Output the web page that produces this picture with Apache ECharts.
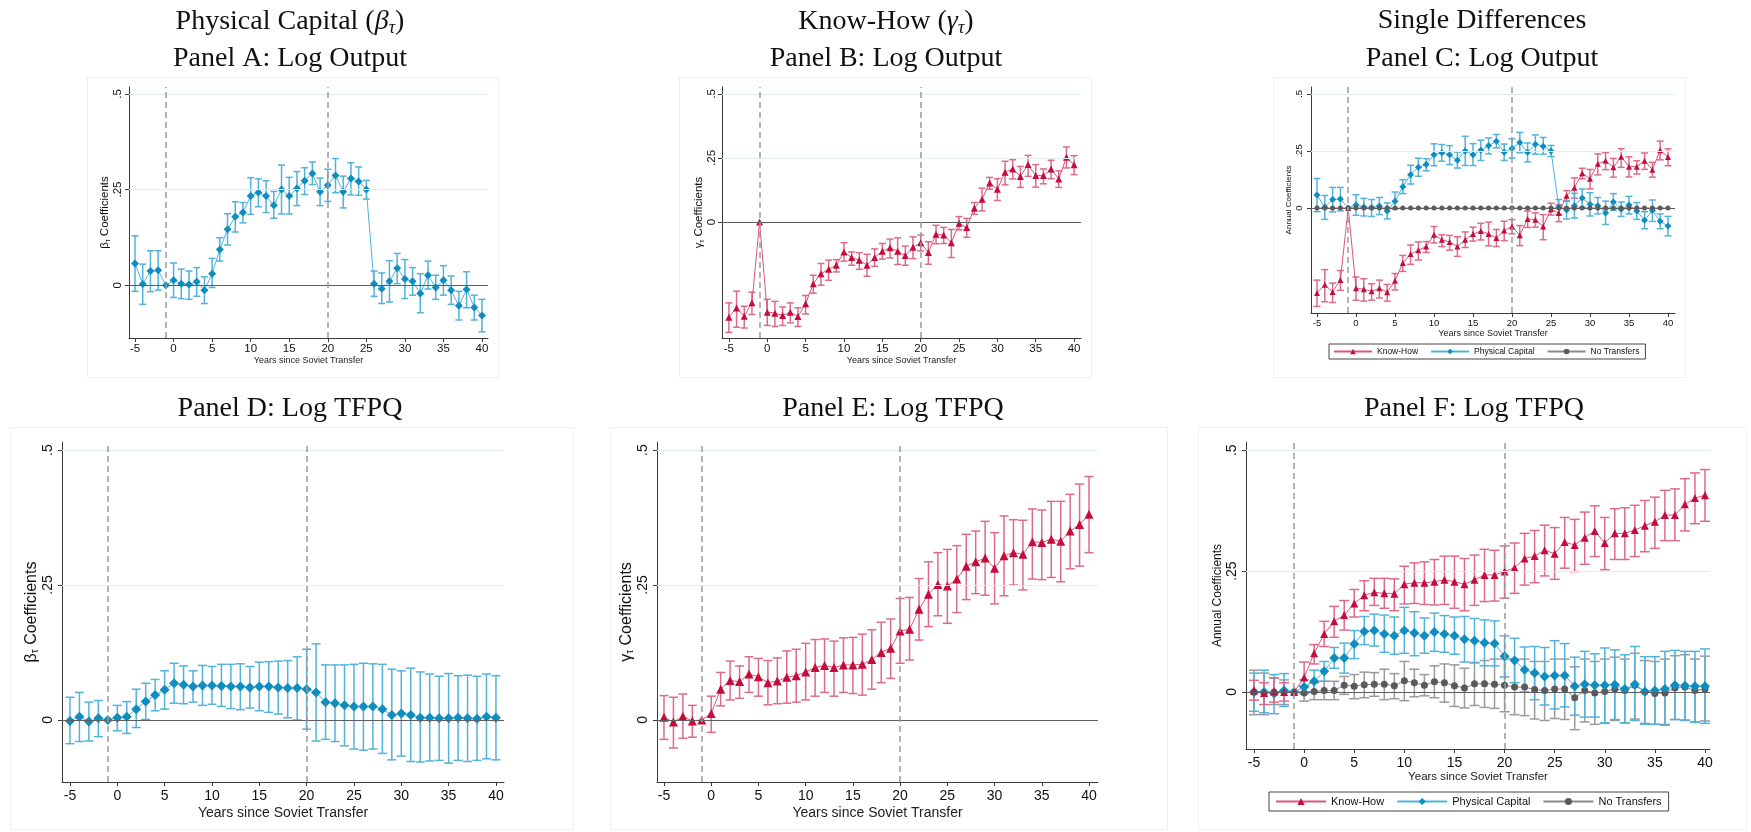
<!DOCTYPE html>
<html lang="en">
  <head>
    <meta charset="UTF-8" />
    <title>Soviet transfers: event-study coefficients</title>
    <script src="https://cdn.jsdelivr.net/npm/echarts@6/dist/echarts.min.js"></script>
    <style>
      html, body { margin: 0; padding: 0; background: #fff; }
      #main { width: 1751px; height: 832px; }
    </style>
  </head>
  <body>
    <div id="main"></div>
    <script>
      // years since transfer
      var years = [-5, -4, -3, -2, -1, 0, 1, 2, 3, 4, 5, 6, 7, 8, 9, 10, 11, 12, 13, 14, 15, 16, 17, 18, 19,
        20, 21, 22, 23, 24, 25, 26, 27, 28, 29, 30, 31, 32, 33, 34, 35, 36, 37, 38, 39, 40];
      var xTicks = [-5, 0, 5, 10, 15, 20, 25, 30, 35, 40];
      var yTicks = [0, 0.25, 0.5];
      var yTickText = ["0", ".25", ".5"];

      // Log output, physical capital (panels A and C)
      var pcOut = [0.057, 0.003, 0.037, 0.039, 0,
        0.013, 0.004, 0.002, 0.009, -0.013, 0.030, 0.093, 0.146, 0.179, 0.190,
        0.233, 0.242, 0.233, 0.209, 0.250, 0.233, 0.253, 0.273, 0.292, 0.244,
        0.261, 0.287, 0.244, 0.279, 0.271, 0.250, 0.004, -0.009, 0.010, 0.044,
        0.016, 0.010, -0.022, 0.026, -0.006, 0.013, -0.013, -0.054, -0.011, -0.058, -0.079];
      var pcOutHi = [0.129, 0.055, 0.09, 0.09, null,
        0.058, 0.042, 0.037, 0.046, 0.022, 0.07, 0.124, 0.187, 0.218, 0.216,
        0.281, 0.278, 0.273, 0.245, 0.314, 0.282, 0.297, 0.307, 0.322, 0.28,
        0.303, 0.331, 0.285, 0.32, 0.309, 0.274, 0.037, 0.032, 0.064, 0.083,
        0.067, 0.046, 0.03, 0.063, 0.026, 0.051, 0.024, -0.016, 0.035, -0.026, -0.037];
      var pcOutLo = [-0.016, -0.05, -0.017, -0.013, null,
        -0.032, -0.035, -0.037, -0.029, -0.048, -0.006, 0.063, 0.105, 0.139, 0.163,
        0.185, 0.205, 0.19, 0.175, 0.186, 0.186, 0.208, 0.237, 0.263, 0.208,
        0.219, 0.242, 0.202, 0.236, 0.235, 0.225, -0.029, -0.048, -0.044, 0.004,
        -0.035, -0.026, -0.072, -0.01, -0.037, -0.026, -0.05, -0.091, -0.059, -0.091, -0.122];

      // Log output, know-how (panels B and C)
      var khOut = [-0.372, -0.336, -0.368, -0.315, 0,
        -0.352, -0.356, -0.365, -0.352, -0.369, -0.319, -0.241, -0.202, -0.185, -0.169,
        -0.117, -0.139, -0.149, -0.169, -0.139, -0.114, -0.101, -0.114, -0.131, -0.099,
        -0.081, -0.119, -0.048, -0.051, -0.081, -0.005, -0.022, 0.054, 0.089, 0.152,
        0.128, 0.194, 0.207, 0.178, 0.224, 0.181, 0.181, 0.207, 0.168, 0.253, 0.223];
      var khOutHi = [-0.316, -0.27, -0.329, -0.274, null,
        -0.302, -0.31, -0.332, -0.316, -0.335, -0.287, -0.208, -0.162, -0.149, -0.147,
        -0.081, -0.117, -0.12, -0.126, -0.105, -0.084, -0.067, -0.062, -0.094, -0.058,
        -0.051, -0.077, -0.013, -0.021, -0.029, 0.021, 0.014, 0.076, 0.132, 0.174,
        0.169, 0.237, 0.243, 0.217, 0.26, 0.224, 0.207, 0.241, 0.2, 0.293, 0.259];
      var khOutLo = [-0.431, -0.411, -0.414, -0.361, null,
        -0.404, -0.408, -0.404, -0.394, -0.408, -0.359, -0.278, -0.247, -0.228, -0.195,
        -0.153, -0.169, -0.185, -0.212, -0.173, -0.145, -0.14, -0.166, -0.169, -0.143,
        -0.113, -0.165, -0.085, -0.084, -0.139, -0.031, -0.06, 0.03, 0.043, 0.128,
        0.084, 0.145, 0.168, 0.135, 0.178, 0.136, 0.149, 0.169, 0.135, 0.211, 0.185];

      // Log output, no transfers (panel C)
      var ntOut = [0, 0, 0, 0, 0,
        0, 0, 0, 0, 0, 0, 0, 0, 0, 0,
        0, 0, 0, 0, 0, 0, 0, 0, 0, 0,
        0, 0, 0, 0, 0, 0, 0, 0, 0, 0,
        0, 0, 0, 0, 0, 0, 0, 0, 0, 0, 0];

      // Log TFPQ, physical capital (panel D)
      var pcTfpq = [-0.002, 0.006, -0.003, 0.003, 0,
        0.004, 0.006, 0.02, 0.034, 0.046, 0.056, 0.068, 0.065, 0.062, 0.064,
        0.064, 0.063, 0.062, 0.062, 0.06, 0.062, 0.062, 0.06, 0.059, 0.059,
        0.057, 0.051, 0.033, 0.031, 0.027, 0.025, 0.025, 0.025, 0.02, 0.009,
        0.012, 0.009, 0.004, 0.004, 0.003, 0.003, 0.004, 0.003, 0.002, 0.006, 0.004];
      var pcTfpqHi = [0.042, 0.051, 0.033, 0.036, null,
        0.027, 0.034, 0.057, 0.068, 0.075, 0.091, 0.105, 0.1, 0.091, 0.101,
        0.099, 0.103, 0.103, 0.104, 0.099, 0.107, 0.108, 0.109, 0.11, 0.117,
        0.131, 0.141, 0.102, 0.102, 0.102, 0.103, 0.105, 0.104, 0.103, 0.094,
        0.091, 0.096, 0.089, 0.085, 0.081, 0.086, 0.082, 0.083, 0.081, 0.085, 0.082];
      var pcTfpqLo = [-0.044, -0.04, -0.039, -0.031, null,
        -0.02, -0.025, -0.014, 0.001, 0.017, 0.02, 0.031, 0.03, 0.033, 0.027,
        0.029, 0.025, 0.021, 0.019, 0.022, 0.017, 0.014, 0.011, 0.004, 0,
        -0.017, -0.039, -0.036, -0.04, -0.048, -0.054, -0.056, -0.054, -0.062, -0.074,
        -0.067, -0.077, -0.078, -0.076, -0.075, -0.08, -0.075, -0.077, -0.075, -0.072, -0.074];

      // Log TFPQ, know-how (panel E)
      var khTfpq = [0.005, -0.004, 0.007, -0.002, 0,
        0.012, 0.057, 0.073, 0.071, 0.085, 0.08, 0.069, 0.072, 0.079, 0.082,
        0.089, 0.097, 0.101, 0.097, 0.102, 0.102, 0.103, 0.112, 0.125, 0.133,
        0.165, 0.168, 0.205, 0.233, 0.251, 0.248, 0.261, 0.285, 0.293, 0.3,
        0.281, 0.304, 0.31, 0.307, 0.33, 0.329, 0.335, 0.331, 0.35, 0.362, 0.381];
      var khTfpqHi = [0.045, 0.042, 0.048, 0.027, null,
        0.044, 0.088, 0.109, 0.1, 0.117, 0.114, 0.11, 0.115, 0.128, 0.131,
        0.142, 0.149, 0.15, 0.146, 0.152, 0.153, 0.159, 0.167, 0.181, 0.187,
        0.225, 0.227, 0.262, 0.293, 0.31, 0.316, 0.323, 0.344, 0.35, 0.368,
        0.347, 0.378, 0.371, 0.37, 0.391, 0.389, 0.405, 0.405, 0.418, 0.437, 0.451];
      var khTfpqLo = [-0.036, -0.052, -0.034, -0.032, null,
        -0.023, 0.026, 0.037, 0.04, 0.051, 0.044, 0.028, 0.03, 0.031, 0.033,
        0.037, 0.044, 0.051, 0.044, 0.051, 0.049, 0.046, 0.057, 0.069, 0.077,
        0.105, 0.111, 0.148, 0.173, 0.193, 0.179, 0.199, 0.223, 0.234, 0.231,
        0.215, 0.23, 0.25, 0.241, 0.261, 0.26, 0.264, 0.256, 0.28, 0.285, 0.31];

      // Log TFPQ, single differences (panel F)
      var khSd = [0.003, -0.002, 0.001, 0, 0,
        0.03, 0.08, 0.12, 0.146, 0.159, 0.183, 0.2, 0.206, 0.204, 0.203,
        0.223, 0.226, 0.226, 0.228, 0.232, 0.228, 0.223, 0.232, 0.242, 0.242,
        0.249, 0.257, 0.276, 0.281, 0.293, 0.286, 0.31, 0.304, 0.319, 0.333,
        0.308, 0.328, 0.328, 0.335, 0.344, 0.352, 0.366, 0.366, 0.388, 0.401, 0.407];
      var khSdHi = [0.024, 0.019, 0.029, 0.019, null,
        0.062, 0.098, 0.146, 0.177, 0.189, 0.212, 0.23, 0.235, 0.235, 0.234,
        0.26, 0.267, 0.269, 0.274, 0.281, 0.281, 0.276, 0.283, 0.295, 0.293,
        0.302, 0.308, 0.328, 0.334, 0.345, 0.34, 0.361, 0.357, 0.372, 0.385,
        0.361, 0.379, 0.381, 0.386, 0.396, 0.403, 0.417, 0.42, 0.441, 0.453, 0.46];
      var khSdLo = [-0.017, -0.026, -0.021, -0.019, null,
        0, 0.058, 0.094, 0.113, 0.128, 0.155, 0.168, 0.179, 0.173, 0.168,
        0.182, 0.183, 0.181, 0.18, 0.181, 0.173, 0.168, 0.179, 0.187, 0.188,
        0.194, 0.204, 0.221, 0.226, 0.24, 0.233, 0.256, 0.249, 0.264, 0.28,
        0.253, 0.274, 0.274, 0.28, 0.29, 0.297, 0.313, 0.313, 0.333, 0.348, 0.353];

      var pcSd = [0, 0, -0.003, 0.003, 0,
        0.01, 0.022, 0.043, 0.07, 0.07, 0.099, 0.125, 0.127, 0.12, 0.116,
        0.127, 0.122, 0.116, 0.124, 0.12, 0.116, 0.109, 0.106, 0.102, 0.1,
        0.074, 0.065, 0.046, 0.039, 0.032, 0.034, 0.034, 0.012, 0.016, 0.014,
        0.014, 0.015, 0.006, 0.016, 0.001, 0.003, 0.006, 0.014, 0.013, 0.012, 0.012];
      var pcSdHi = [0.039, 0.045, 0.036, 0.038, null,
        0.025, 0.045, 0.063, 0.092, 0.101, 0.127, 0.156, 0.161, 0.159, 0.155,
        0.175, 0.166, 0.153, 0.163, 0.158, 0.155, 0.156, 0.152, 0.149, 0.147,
        0.116, 0.111, 0.093, 0.094, 0.092, 0.106, 0.1, 0.072, 0.084, 0.079,
        0.091, 0.087, 0.077, 0.094, 0.073, 0.073, 0.084, 0.086, 0.084, 0.084, 0.089];
      var pcSdLo = [-0.04, -0.043, -0.045, -0.03, null,
        -0.004, 0, 0.022, 0.049, 0.039, 0.069, 0.098, 0.095, 0.082, 0.078,
        0.08, 0.075, 0.08, 0.084, 0.082, 0.078, 0.062, 0.06, 0.054, 0.054,
        0.031, 0.019, 0, -0.016, -0.027, -0.035, -0.031, -0.048, -0.052, -0.052,
        -0.064, -0.057, -0.064, -0.059, -0.067, -0.067, -0.069, -0.057, -0.058, -0.063, -0.065];

      var ntSd = [0, -0.002, 0, 0, 0,
        -0.002, 0.001, 0.003, 0.003, 0.014, 0.012, 0.015, 0.016, 0.016, 0.013,
        0.023, 0.019, 0.014, 0.021, 0.019, 0.013, 0.008, 0.017, 0.017, 0.016,
        0.014, 0.01, 0.01, 0.005, 0.003, 0.006, 0.006, -0.012, 0.003, -0.002,
        0.001, 0.006, 0.003, 0.014, 0, -0.003, -0.002, 0.008, 0.01, 0.003, 0.006];
      var ntSdHi = [0.045, 0.039, 0.029, 0.025, null,
        0.012, 0.019, 0.022, 0.022, 0.032, 0.036, 0.041, 0.04, 0.047, 0.038,
        0.063, 0.047, 0.036, 0.054, 0.058, 0.056, 0.049, 0.061, 0.065, 0.068,
        0.068, 0.068, 0.068, 0.063, 0.063, 0.068, 0.068, 0.052, 0.068, 0.063,
        0.068, 0.072, 0.068, 0.08, 0.065, 0.063, 0.068, 0.075, 0.077, 0.068, 0.074];
      var ntSdLo = [-0.047, -0.047, -0.026, -0.026, null,
        -0.019, -0.016, -0.016, -0.016, -0.005, -0.014, -0.012, -0.009, -0.016, -0.014,
        -0.018, -0.01, -0.008, -0.012, -0.021, -0.03, -0.033, -0.028, -0.032, -0.034,
        -0.041, -0.047, -0.049, -0.056, -0.059, -0.055, -0.057, -0.078, -0.062, -0.067,
        -0.065, -0.059, -0.064, -0.056, -0.065, -0.067, -0.067, -0.057, -0.059, -0.062, -0.06];

      var SANS = "Liberation Sans, Arial, sans-serif";
      var SERIF = "Liberation Serif, Times New Roman, serif";

      var BLUE = { mark: "#0f8cc0", line: "#4fb3da", ci: "#52b2da" };
      var RED = { mark: "#c40d3c", line: "#d9577a", ci: "#de6a8a" };
      var GREY = { mark: "#5a5a5a", line: "#8a8a8a", ci: "#9a9a9a" };

      // panel layout (pixels) and axis ranges
      var panels = [
        { left: 129, top: 87, width: 359, height: 251, xmin: -5.78, xmax: 40.78, ymin: -0.138, ymax: 0.518,
          tick: 11.5, xname: 9, xgap: 17, xmargin: 5, yname: 11.5, ygap: 15, ymargin: 5, yt: "b",
          sym: 8, cap: 3.5 },
        { left: 722, top: 87, width: 359, height: 251, xmin: -5.9, xmax: 40.9, ymin: -0.453, ymax: 0.527,
          tick: 11.5, xname: 9, xgap: 17, xmargin: 5, yname: 11.5, ygap: 11, ymargin: 4, yt: "g",
          sym: 7, cap: 3.5 },
        { left: 1311, top: 87, width: 364, height: 226, xmin: -5.77, xmax: 40.9, ymin: -0.46, ymax: 0.53,
          tick: 9.5, xname: 9, xgap: 15, xmargin: 5, yname: 8, ygap: 13, ymargin: 7, yt: "a",
          sym: 7, cap: 3.5 },
        { left: 62, top: 442, width: 442, height: 340, xmin: -5.84, xmax: 40.85, ymin: -0.115, ymax: 0.515,
          tick: 14, xname: 14, xgap: 24, xmargin: 7, yname: 16, ygap: 20, ymargin: 7, yt: "b",
          sym: 10, cap: 4.5 },
        { left: 657, top: 442, width: 441, height: 340, xmin: -5.74, xmax: 40.95, ymin: -0.115, ymax: 0.515,
          tick: 14, xname: 14, xgap: 24, xmargin: 7, yname: 16, ygap: 20, ymargin: 7, yt: "g",
          sym: 10, cap: 4.5 },
        { left: 1246, top: 442, width: 464, height: 307, xmin: -5.8, xmax: 40.5, ymin: -0.118, ymax: 0.517,
          tick: 14, xname: 11.5, xgap: 21, xmargin: 7, yname: 12, ygap: 20, ymargin: 7, yt: "a",
          sym: 10, cap: 5 }
      ];

      function pts(vals) {
        return years.map(function (x, i) { return [x, vals[i]]; });
      }
      function bars(lo, hi) {
        var out = [];
        years.forEach(function (x, i) {
          if (lo[i] !== null && hi[i] !== null) out.push([x, lo[i], hi[i]]);
        });
        return out;
      }

      function errSeries(idx, lo, hi, color, cap) {
        return {
          type: "custom",
          name: "ci" + idx,
          xAxisIndex: idx,
          yAxisIndex: idx,
          z: 2,
          silent: true,
          encode: { x: 0, y: [1, 2] },
          data: bars(lo, hi),
          renderItem: function (params, api) {
            var x = api.value(0);
            var a = api.coord([x, api.value(1)]);
            var b = api.coord([x, api.value(2)]);
            var st = { stroke: color, lineWidth: 1.5 };
            return {
              type: "group",
              children: [
                { type: "line", shape: { x1: a[0], y1: a[1], x2: b[0], y2: b[1] }, style: st },
                { type: "line", shape: { x1: a[0] - cap, y1: a[1], x2: a[0] + cap, y2: a[1] }, style: st },
                { type: "line", shape: { x1: b[0] - cap, y1: b[1], x2: b[0] + cap, y2: b[1] }, style: st }
              ]
            };
          }
        };
      }

      function lineSeries(idx, name, vals, col, symbol, size) {
        return {
          type: "line",
          name: name,
          xAxisIndex: idx,
          yAxisIndex: idx,
          z: 3,
          data: pts(vals),
          symbol: symbol,
          symbolSize: size,
          showAllSymbol: true,
          itemStyle: { color: col.mark },
          lineStyle: { color: col.line, width: 1 },
          emphasis: { disabled: true },
          animation: false
        };
      }

      function refSeries(idx) {
        return {
          type: "line",
          name: "ref" + idx,
          xAxisIndex: idx,
          yAxisIndex: idx,
          data: [],
          z: 1,
          silent: true,
          markLine: {
            symbol: "none",
            silent: true,
            animation: false,
            label: { show: false },
            data: [
              { yAxis: 0.25, lineStyle: { color: "#e3edf0", width: 1, type: "solid" } },
              { yAxis: 0.5, lineStyle: { color: "#e3edf0", width: 1, type: "solid" } },
              { yAxis: 0, lineStyle: { color: "#5e5e5e", width: 1, type: "solid" } },
              { xAxis: -1, lineStyle: { color: "#9a9a9a", width: 1.5, type: [6, 4] } },
              { xAxis: 20, lineStyle: { color: "#9a9a9a", width: 1.5, type: [6, 4] } }
            ]
          }
        };
      }

      var yNames = {
        b: "{g|β}{s|τ} Coefficients",
        g: "{g|γ}{s|τ} Coefficients",
        a: "Annual Coefficients"
      };

      var grids = [], xAxes = [], yAxes = [];
      panels.forEach(function (p, i) {
        grids.push({ left: p.left, top: p.top, width: p.width, height: p.height, containLabel: false });
        xAxes.push({
          gridIndex: i, type: "value", min: p.xmin, max: p.xmax,
          axisLine: { show: true, onZero: false, lineStyle: { color: "#3a3a3a", width: 1 } },
          axisTick: { show: true, length: 4, customValues: xTicks, lineStyle: { color: "#3a3a3a" } },
          axisLabel: { customValues: xTicks, fontSize: p.tick, margin: p.xmargin, color: "#111", fontFamily: SANS },
          splitLine: { show: false },
          name: "Years since Soviet Transfer", nameLocation: "middle", nameGap: p.xgap,
          nameTextStyle: { fontSize: p.xname, color: "#222", fontFamily: SANS }
        });
        yAxes.push({
          gridIndex: i, type: "value", min: p.ymin, max: p.ymax,
          axisLine: { show: true, onZero: false, lineStyle: { color: "#3a3a3a", width: 1 } },
          axisTick: { show: true, length: 4, customValues: yTicks, lineStyle: { color: "#3a3a3a" } },
          axisLabel: {
            customValues: yTicks, rotate: 90, fontSize: p.tick, margin: p.ymargin, color: "#111", fontFamily: SANS,
            formatter: function (v) { return yTickText[yTicks.indexOf(v)]; }
          },
          splitLine: { show: false },
          name: yNames[p.yt], nameLocation: "middle", nameGap: p.ygap, nameRotate: 90,
          nameTextStyle: {
            fontSize: p.yname, color: "#111", fontFamily: SANS,
            rich: {
              g: { fontSize: p.yname, fontFamily: SANS, color: "#111" },
              s: { fontSize: Math.round(p.yname * 0.6), fontFamily: SANS, color: "#111",
                verticalAlign: "bottom", padding: [Math.round(p.yname * 0.5), 0, 0, 0] }
            }
          }
        });
      });

      var series = [];
      // A: physical capital, log output
      series.push(refSeries(0));
      series.push(errSeries(0, pcOutLo, pcOutHi, BLUE.ci, panels[0].cap));
      series.push(lineSeries(0, "pcA", pcOut, BLUE, "diamond", panels[0].sym));
      // B: know-how, log output
      series.push(refSeries(1));
      series.push(errSeries(1, khOutLo, khOutHi, RED.ci, panels[1].cap));
      series.push(lineSeries(1, "khB", khOut, RED, "triangle", panels[1].sym));
      // C: single differences, log output
      series.push(refSeries(2));
      series.push(errSeries(2, khOutLo, khOutHi, RED.ci, panels[2].cap));
      series.push(errSeries(2, pcOutLo, pcOutHi, BLUE.ci, panels[2].cap));
      series.push(lineSeries(2, "Know-How", khOut, RED, "triangle", 6));
      series.push(lineSeries(2, "Physical Capital", pcOut, BLUE, "diamond", 7));
      series.push(lineSeries(2, "No Transfers", ntOut, GREY, "circle", 5));
      // D: physical capital, log TFPQ
      series.push(refSeries(3));
      series.push(errSeries(3, pcTfpqLo, pcTfpqHi, BLUE.ci, panels[3].cap));
      series.push(lineSeries(3, "pcD", pcTfpq, BLUE, "diamond", panels[3].sym));
      // E: know-how, log TFPQ
      series.push(refSeries(4));
      series.push(errSeries(4, khTfpqLo, khTfpqHi, RED.ci, panels[4].cap));
      series.push(lineSeries(4, "khE", khTfpq, RED, "triangle", 9));
      // F: single differences, log TFPQ
      series.push(refSeries(5));
      series.push(errSeries(5, ntSdLo, ntSdHi, GREY.ci, panels[5].cap));
      series.push(errSeries(5, pcSdLo, pcSdHi, BLUE.ci, panels[5].cap));
      series.push(errSeries(5, khSdLo, khSdHi, RED.ci, panels[5].cap));
      series.push(lineSeries(5, "No Transfers", ntSd, GREY, "circle", 7));
      series.push(lineSeries(5, "Physical Capital", pcSd, BLUE, "diamond", 10));
      series.push(lineSeries(5, "Know-How", khSd, RED, "triangle", 8));

      function title(text, cx, top) {
        return {
          text: text, left: cx, top: top, textAlign: "center", padding: 0,
          textStyle: {
            fontFamily: SERIF, fontSize: 28, fontWeight: "normal", color: "#111",
            rich: {
              i: { fontFamily: SERIF, fontSize: 28, fontStyle: "italic", color: "#111" },
              s: { fontFamily: SERIF, fontSize: 18, fontStyle: "italic", color: "#111",
                verticalAlign: "bottom", padding: [12, 0, 0, 0] }
            }
          }
        };
      }

      function box(x, y, w, h) {
        return {
          type: "rect", left: x, top: y, silent: true, z: -10,
          shape: { width: w, height: h },
          style: { fill: "#fff", stroke: "#edf1f4", lineWidth: 1 }
        };
      }

      var legendNames = ["Know-How", "Physical Capital", "No Transfers"];

      var option = {
        backgroundColor: "#fff",
        animation: false,
        title: [
          title("Physical Capital ({i|β}{s|τ})", 290, 7),
          title("Panel A: Log Output", 290, 45),
          title("Know-How ({i|γ}{s|τ})", 886, 7),
          title("Panel B: Log Output", 886, 45),
          title("Single Differences", 1482, 7),
          title("Panel C: Log Output", 1482, 45),
          title("Panel D: Log TFPQ", 290, 395),
          title("Panel E: Log TFPQ", 893, 395),
          title("Panel F: Log TFPQ", 1474, 395)
        ],
        graphic: [
          box(87, 77, 411, 300),
          box(679, 77, 412, 300),
          box(1273, 77, 412, 300),
          box(10, 427, 563, 402),
          box(610, 427, 557, 402),
          box(1198, 427, 548, 402)
        ],
        legend: [
          {
            data: legendNames, left: 1329, top: 344, orient: "horizontal",
            itemWidth: 38, itemHeight: 7, itemGap: 12, padding: [3, 6, 3, 4],
            borderColor: "#444", borderWidth: 1, selectedMode: false,
            textStyle: { fontSize: 8.5, fontFamily: SANS, color: "#111" }
          },
          {
            data: legendNames, left: 1269, top: 792, orient: "horizontal",
            itemWidth: 50, itemHeight: 9, itemGap: 12, padding: [4, 7, 4, 6],
            borderColor: "#444", borderWidth: 1, selectedMode: false,
            textStyle: { fontSize: 11, fontFamily: SANS, color: "#111" }
          }
        ],
        grid: grids,
        xAxis: xAxes,
        yAxis: yAxes,
        series: series
      };

      var myChart = echarts.init(document.getElementById("main"), null, { renderer: "canvas" });
      myChart.setOption(option);
    </script>
  </body>
</html>
